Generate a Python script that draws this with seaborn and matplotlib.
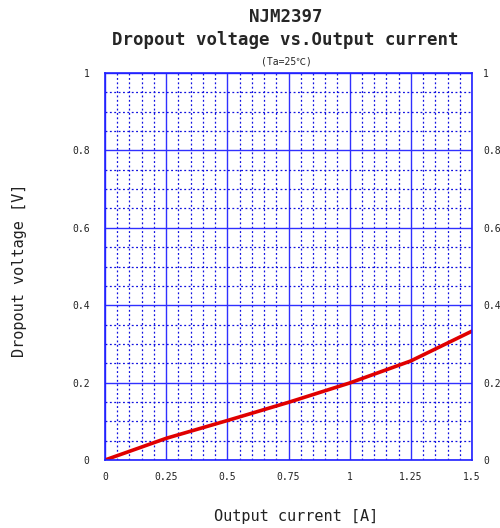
import matplotlib
matplotlib.use("Agg")
import matplotlib.pyplot as plt
import seaborn as sns
import pandas as pd
import numpy as np
from matplotlib.ticker import MultipleLocator

current = [0.0, 0.25, 0.5, 0.75, 1.0, 1.25, 1.5]
voltage = [0.0, 0.056, 0.102, 0.149, 0.199, 0.256, 0.333]
xticks = [0, 0.25, 0.5, 0.75, 1, 1.25, 1.5]
xticklabels = ["0", "0.25", "0.5", "0.75", "1", "1.25", "1.5"]
yticks = [0, 0.2, 0.4, 0.6, 0.8, 1]
yticklabels = ["0", "0.2", "0.4", "0.6", "0.8", "1"]

sns.set_style("white")
plt.rcParams['font.family'] = ['DejaVu Sans Mono', 'Noto Sans CJK JP']

df = pd.DataFrame({"current": current, "voltage": voltage})

fig = plt.figure(figsize=(5.0, 5.28), dpi=100)
ax = fig.add_axes([105/500, 1-460/528, (472-105)/500, (460-73)/528])

ax.set_xlim(0, 1.5)
ax.set_ylim(0, 1)
ax.xaxis.set_minor_locator(MultipleLocator(0.05))
ax.yaxis.set_minor_locator(MultipleLocator(0.05))
ax.set_xticks(xticks)
ax.set_xticklabels(xticklabels)
ax.set_yticks(yticks)
ax.set_yticklabels(yticklabels)
ax.grid(which="major", color="#3030ff", linewidth=1.0, linestyle="-")
ax.grid(which="minor", color="#1010e0", linewidth=0.9, linestyle=(0, (1.5, 2)))
ax.set_axisbelow(True)
for s in ax.spines.values():
    s.set_color("#2020ff")
    s.set_linewidth(1.2)

sns.lineplot(data=df, x="current", y="voltage", ax=ax, color="#e00000", linewidth=2.6)

ax.tick_params(which="both", length=0, labelsize=7, colors="#222222")
ax.tick_params(axis="x", pad=9)
ax.tick_params(axis="y", pad=11)
ax.set_xlabel("")
ax.set_ylabel("")

ax2 = ax.twinx()
ax2.set_ylim(0, 1)
ax2.set_yticks(yticks)
ax2.set_yticklabels(yticklabels)
ax2.tick_params(which="both", length=0, labelsize=7, pad=8, colors="#222222")
ax2.grid(False)
for s in ax2.spines.values():
    s.set_visible(False)

fig.text(296/500, 1-517/528, "Output current [A]", ha="center", va="center", fontsize=11, color="#222222")
fig.text(20/500, 1-270/528, "Dropout voltage [V]", ha="center", va="center", fontsize=11,
         rotation=90, color="#222222")

fig.text(286/500, 1-17/528, "NJM2397", ha="center", va="center", fontsize=12.5, fontweight="bold")
fig.text(285/500, 1-40/528, "Dropout voltage vs.Output current", ha="center", va="center", fontsize=12.5, fontweight="bold")
fig.text(286/500, 1-61/528, "(Ta=25\u2103)", ha="center", va="center", fontsize=7)

fig.savefig("out.png", dpi=100, facecolor="white")
